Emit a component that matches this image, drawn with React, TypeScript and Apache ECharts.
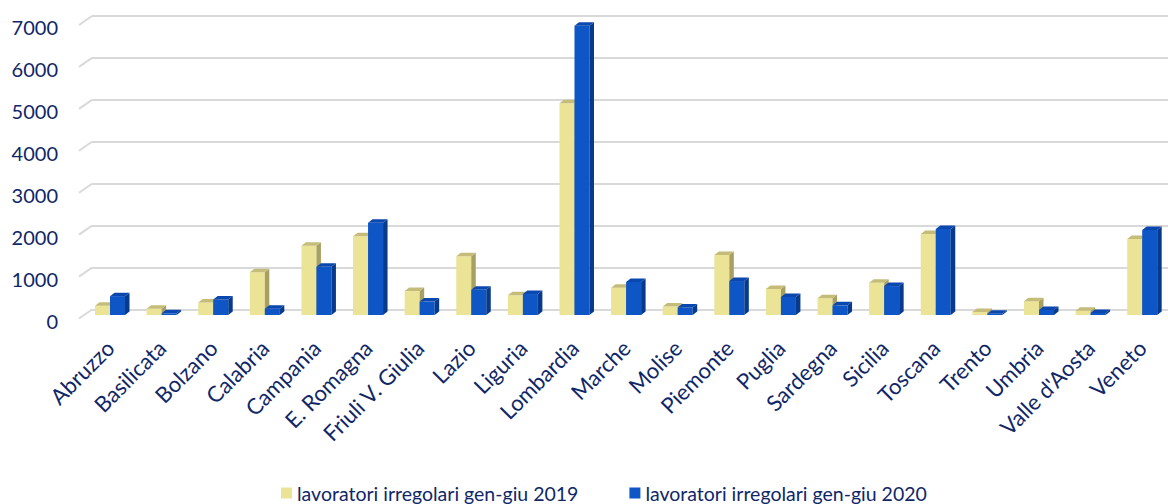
import React, { useEffect, useRef } from "react";
import * as echarts from "echarts";

const categories = [
  "Abruzzo", "Basilicata", "Bolzano", "Calabria", "Campania", "E. Romagna",
  "Friuli V. Giulia", "Lazio", "Liguria", "Lombardia", "Marche", "Molise",
  "Piemonte", "Puglia", "Sardegna", "Sicilia", "Toscana", "Trento", "Umbria",
  "Valle d'Aosta", "Veneto",
];
const values2019 = [220, 150, 300, 1020, 1650, 1880, 570, 1400, 470, 5050, 650, 200, 1430, 620, 400, 770, 1930, 70, 330, 100, 1810];
const values2020 = [450, 40, 370, 150, 1150, 2200, 320, 600, 500, 6900, 790, 180, 810, 430, 230, 690, 2050, 30, 120, 50, 2030];
const yTicks = [0, 1000, 2000, 3000, 4000, 5000, 6000, 7000];
const seriesNames = ["lavoratori irregolari gen-giu 2019", "lavoratori irregolari gen-giu 2020"];

const TEXT = "#0f2768";
const FONT = "Lato";

const bar3d = (side: number, front: string, sideC: string, topC: string) => (params: any, api: any) => {
  const ci = api.value(0);
  const v = api.value(1);
  const base = api.coord([ci, 0]);
  const top = api.coord([ci, v]);
  const w = 15;
  const x0 = side === 0 ? base[0] - w : base[0];
  const x1 = x0 + w;
  const yb = base[1];
  const yt = top[1];
  const dx = 4.5;
  const dy = 3.5;
  return {
    type: "group",
    children: [
      { type: "rect", shape: { x: x0, y: yt, width: w, height: yb - yt }, style: { fill: front } },
      { type: "polygon", shape: { points: [[x1, yt], [x1 + dx, yt - dy], [x1 + dx, yb - dy], [x1, yb]] }, style: { fill: sideC } },
      { type: "polygon", shape: { points: [[x0, yt], [x0 + dx, yt - dy], [x1 + dx, yt - dy], [x1, yt]] }, style: { fill: topC } },
    ],
  };
};

export default function App() {
  const ref = useRef<HTMLDivElement>(null);
  useEffect(() => {
    if (!ref.current) return;
    const chart = echarts.init(ref.current, null, { renderer: "svg" });
    chart.setOption({
      animation: false,
      textStyle: { fontFamily: FONT },
      grid: [
        { left: 92, right: 0, top: 16, height: 293.5, containLabel: false },
        { left: 84.2, width: 1084.7, top: 21.5, height: 293.5, containLabel: false },
      ],
      legend: {
        data: seriesNames,
        top: 483,
        left: 281,
        padding: 0,
        icon: "rect",
        itemWidth: 11,
        itemHeight: 11,
        itemGap: 51,
        textStyle: { color: TEXT, fontSize: 19.5, fontFamily: FONT },
      },
      xAxis: [
        { type: "category", gridIndex: 0, data: categories, show: false },
        {
          type: "category",
          gridIndex: 1,
          data: categories,
          axisLine: { show: false },
          axisTick: { show: false },
          axisLabel: { interval: 0, rotate: 45, margin: 29, fontSize: 22, color: TEXT, fontFamily: FONT },
        },
      ],
      yAxis: [
        {
          type: "value",
          gridIndex: 0,
          min: 0,
          max: 7000,
          interval: 1000,
          axisLine: { show: false },
          axisTick: { show: false },
          axisLabel: {
            margin: 34,
            fontSize: 20,
            color: TEXT,
            fontFamily: FONT,
            verticalAlign: "top",
            padding: [1, 0, 0, 0],
            formatter: (v: number) => String(v),
          },
          splitLine: { lineStyle: { color: "#d9d9d9", width: 2 } },
        },
        { type: "value", gridIndex: 1, min: 0, max: 7000, interval: 1000, show: false, splitLine: { show: false } },
      ],
      series: [
        {
          type: "custom",
          name: "stubs",
          xAxisIndex: 0,
          yAxisIndex: 0,
          silent: true,
          data: yTicks.map((t) => [0, t]),
          renderItem: (params: any, api: any) => {
            const p = api.coord([0, api.value(1)]);
            const x = params.coordSys.x;
            return {
              type: "line",
              shape: { x1: x, y1: p[1], x2: x - 13, y2: p[1] + 9 },
              style: { stroke: "#d9d9d9", lineWidth: 2 },
            };
          },
        },
        {
          type: "custom",
          name: seriesNames[0],
          xAxisIndex: 1,
          yAxisIndex: 1,
          itemStyle: { color: "#EBE395" },
          data: values2019.map((v, i) => [i, v]),
          renderItem: bar3d(0, "#EBE395", "#A8A062", "#C4BC78"),
        },
        {
          type: "custom",
          name: seriesNames[1],
          xAxisIndex: 1,
          yAxisIndex: 1,
          itemStyle: { color: "#0E55C6" },
          data: values2020.map((v, i) => [i, v]),
          renderItem: bar3d(1, "#0E55C6", "#083A8C", "#0A47AE"),
        },
      ],
    });
    return () => chart.dispose();
  }, []);
  return <div ref={ref} style={{ width: 1168, height: 504, position: "absolute", left: 0, top: 0 }} />;
}
